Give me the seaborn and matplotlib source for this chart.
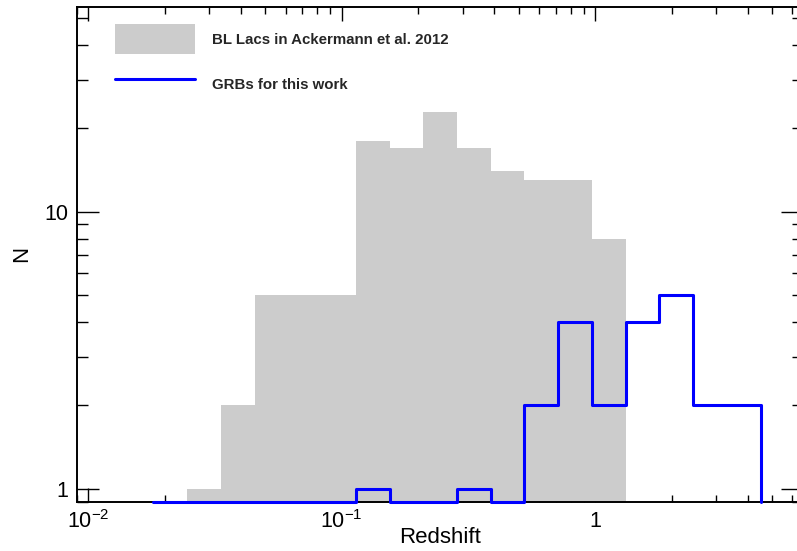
# Redshift distributions: BL Lacs (Ackermann et al. 2012) vs GRBs
import seaborn as sns
import matplotlib.pyplot as plt
import numpy as np
from matplotlib.ticker import NullFormatter

# Data
# equal-width bins in log(z), shared by both samples
bin_edges = [0.01807, 0.02455, 0.03336, 0.04531, 0.06155, 0.08362, 0.1136,
             0.1543, 0.2097, 0.2848, 0.3870, 0.5256, 0.7142, 0.9701,
             1.318, 1.790, 2.432, 3.304, 4.488]
bllac_counts = [0, 1, 2, 5, 5, 5, 18, 17, 23, 17, 14, 13, 13, 8, 0, 0, 0, 0]
grb_counts = [0, 0, 0, 0, 0, 0, 1, 0, 0, 1, 0, 2, 4, 2, 4, 5, 2, 2]

bllac_label = 'BL Lacs in Ackermann et al. 2012'
grb_label = 'GRBs for this work'

x_ticks = [0.01, 0.1, 1]
x_ticklabels = [r'$\mathdefault{10^{-2}}$', r'$\mathdefault{10^{-1}}$', '1']
y_ticks = [1, 10]
y_ticklabels = ['1', '10']
x_limits = (0.009, 6.6)
y_limits = (0.9, 55)

# Settings
sns.set_style('ticks')
plt.rcParams['font.family'] = ['Liberation Sans', 'DejaVu Sans']
plt.rcParams['mathtext.fontset'] = 'custom'
plt.rcParams['mathtext.rm'] = 'Liberation Sans'

fig = plt.figure(figsize=(7.97, 5.51), dpi=100)
ax = fig.add_axes([0.0962, 0.0898, 0.9113, 0.898])

edges = np.array(bin_edges)
centers = np.sqrt(edges[:-1] * edges[1:])

# gray filled histogram (bins given in log10 units because of log_scale)
sns.histplot(x=centers, weights=bllac_counts, bins=list(np.log10(edges)),
             log_scale=True, element='step', fill=True, color='#cccccc',
             alpha=1, linewidth=0, label=bllac_label, ax=ax)

# blue step outline, empty bins sit on the bottom axis
grb_plot = np.where(np.array(grb_counts) > 0, grb_counts, y_limits[0])
xs = np.append(edges, edges[-1])
ys = np.append(grb_plot, [grb_plot[-1], y_limits[0]])
sns.lineplot(x=xs, y=ys, estimator=None, sort=False, drawstyle='steps-post',
             color='#0000ff', linewidth=2.2, label=grb_label, clip_on=False,
             zorder=3, ax=ax)

ax.set_yscale('log')
ax.set_xlim(x_limits)
ax.set_ylim(y_limits)
ax.set_xticks(x_ticks, x_ticklabels)
ax.set_yticks(y_ticks, y_ticklabels)
ax.xaxis.set_minor_formatter(NullFormatter())
ax.yaxis.set_minor_formatter(NullFormatter())

ax.tick_params(axis='both', which='both', direction='in', top=True, right=True,
               color='black', width=1.0, labelcolor='black')
ax.tick_params(axis='x', which='major', length=10, pad=6.5, labelsize=15.5)
ax.tick_params(axis='x', which='minor', length=5)
ax.tick_params(axis='y', which='major', length=15.8, pad=6, labelsize=15.5)
ax.tick_params(axis='y', which='minor', length=7.9)
for sp in ax.spines.values():
    sp.set_color('black')
    sp.set_linewidth(1.4)

ax.set_xlabel('Redshift', fontsize=16, color='black')
ax.set_ylabel('N', fontsize=16, color='black')
ax.xaxis.set_label_coords(0.5, -0.051)
ax.yaxis.set_label_coords(-0.0609, 0.5)

ax.legend(loc='upper left', bbox_to_anchor=(0.0527, 0.965), frameon=False,
          borderpad=0, borderaxespad=0, handlelength=5.33, handleheight=2.7,
          handletextpad=1.13, labelspacing=1.0,
          prop={'weight': 'bold', 'size': 10.8})

fig.savefig('out.png', dpi=100)
